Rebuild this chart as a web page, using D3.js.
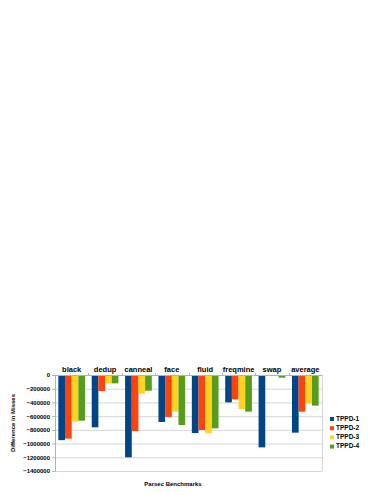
<!DOCTYPE html>
<html>
<head>
<meta charset="utf-8">
<script src="https://cdn.jsdelivr.net/npm/d3@7"></script>
<style>
  body { margin: 0; background: #fff; }
  text { font-family: "Liberation Sans", Arial, sans-serif; font-weight: bold; fill: #000; }
</style>
</head>
<body>
<div id="chart"></div>
<script>
var categories = ["black", "dedup", "canneal", "face", "fluid", "freqmine", "swap", "average"];
var series_names = ["TPPD-1", "TPPD-2", "TPPD-3", "TPPD-4"];
var tppd1 = [-950000, -763000, -1200000, -685000, -846000, -399000, -1055000, -841000];
var tppd2 = [-928000, -233000, -817000, -612000, -802000, -355000, 0, -535000];
var tppd3 = [-680000, -122000, -272000, -535000, -850000, -496000, -5000, -418000];
var tppd4 = [-666000, -122000, -229000, -729000, -778000, -535000, -39000, -447000];
var y_ticks = [0, -200000, -400000, -600000, -800000, -1000000, -1200000, -1400000];
var colors = ["#004586", "#ff420e", "#ffd320", "#579d1c"];

var all_series = [tppd1, tppd2, tppd3, tppd4];

const W = 383, H = 495;
const margin = { top: 375, left: 55, right: 61, bottom: 24 };
const width = W - margin.left - margin.right;
const height = H - margin.top - margin.bottom;

var svg = d3.select('#chart')
    .append('svg')
    .attr('width', W)
    .attr('height', H);

var g = svg.append('g')
    .attr('transform', 'translate(' + margin.left + ', ' + margin.top + ')');

var x = d3.scaleBand().domain(categories).range([0, width]).paddingInner(0).paddingOuter(0);
var x_inner = d3.scaleBand().domain(series_names)
    .range([0, x.bandwidth()]).paddingOuter(0.5).paddingInner(0);
var y = d3.scaleLinear().domain([0, -1400000]).range([0, height]);

// grid lines
g.selectAll('.grid')
    .data(y_ticks)
    .enter()
    .append('line')
    .attr('x1', 0)
    .attr('x2', width)
    .attr('y1', d => y(d) + 0.5)
    .attr('y2', d => y(d) + 0.5)
    .attr('stroke', '#d6d6d6')
    .attr('stroke-width', 1);

// right frame
g.append('line')
    .attr('x1', width + 0.5).attr('x2', width + 0.5)
    .attr('y1', 0).attr('y2', height)
    .attr('stroke', '#d6d6d6');

// bars
series_names.forEach(function(s, si){
    g.selectAll('.bar' + si)
        .data(all_series[si])
        .enter()
        .append('rect')
        .attr('x', (d, i) => x(categories[i]) + x_inner(s))
        .attr('y', d => y(Math.max(0, d)))
        .attr('width', x_inner.bandwidth())
        .attr('height', d => Math.abs(y(d) - y(0)))
        .attr('fill', colors[si]);
});

// y axis
var yAxis = g.append('g')
    .call(d3.axisLeft(y).tickValues(y_ticks).tickSize(3).tickPadding(2).tickFormat(d3.format('d')));
yAxis.select('.domain').attr('stroke', '#b3b3b3');
yAxis.selectAll('.tick line').attr('stroke', '#b3b3b3');
yAxis.selectAll('text').style('font-size', '6px');

// zero line with category ticks pointing up
g.append('line')
    .attr('x1', 0).attr('x2', width)
    .attr('y1', y(0) + 0.5).attr('y2', y(0) + 0.5)
    .attr('stroke', '#b3b3b3');
g.selectAll('.cat-tick')
    .data(categories.slice(1))
    .enter()
    .append('line')
    .attr('x1', d => Math.round(x(d)) + 0.5)
    .attr('x2', d => Math.round(x(d)) + 0.5)
    .attr('y1', -2).attr('y2', 0)
    .attr('stroke', '#b3b3b3');

// category labels on top
g.selectAll('.cat-label')
    .data(categories)
    .enter()
    .append('text')
    .attr('x', d => x(d) + x.bandwidth() / 2)
    .attr('y', -3)
    .attr('text-anchor', 'middle')
    .style('font-size', '7.5px')
    .text(d => d);

// axis titles
svg.append('text')
    .attr('transform', 'translate(15, ' + (margin.top + height / 2) + ') rotate(-90)')
    .attr('text-anchor', 'middle')
    .style('font-size', '6px')
    .text('Difference in Misses');

svg.append('text')
    .attr('x', 173)
    .attr('y', 486)
    .attr('text-anchor', 'middle')
    .style('font-size', '6px')
    .text('Parsec Benchmarks');

// legend
var legend = svg.append('g').attr('transform', 'translate(330, 419)');
series_names.forEach(function(s, i){
    legend.append('rect')
        .attr('x', 0)
        .attr('y', i * 9.2 - 2)
        .attr('width', 4)
        .attr('height', 4)
        .attr('fill', colors[i]);
    legend.append('text')
        .attr('x', 6)
        .attr('y', i * 9.2)
        .attr('dominant-baseline', 'middle')
        .style('font-size', '6.5px')
        .text(s);
});
</script>
</body>
</html>
